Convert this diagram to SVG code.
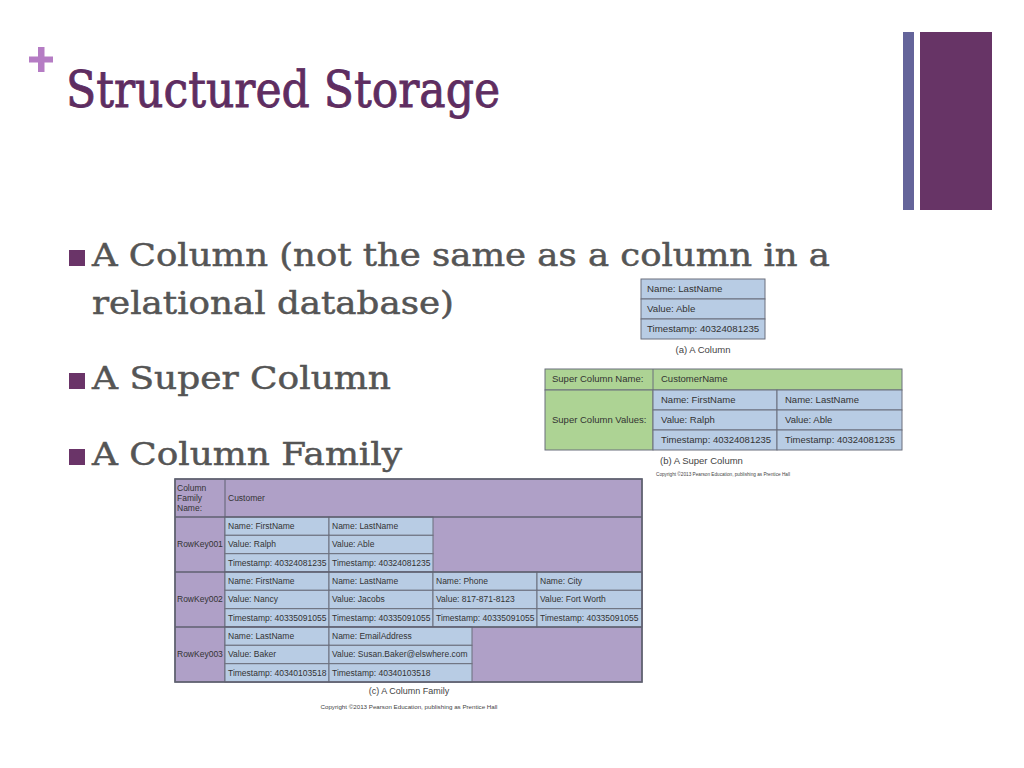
<svg xmlns="http://www.w3.org/2000/svg" width="1024" height="768" viewBox="0 0 1024 768">
<style>
.title{font-family:"DejaVu Serif","Liberation Serif",serif;font-size:51px;fill:#5e2d61;stroke:#5e2d61;stroke-width:0.9}
.bul{font-family:"DejaVu Serif","Liberation Serif",serif;font-size:32px;fill:#555555;stroke:#555555;stroke-width:0.5}
.sq{fill:#6a3468}
.t{font-family:"Liberation Sans",Arial,sans-serif;fill:#333333}
.ta{font-size:9.7px}
.tb{font-size:9.5px}
.tc{font-size:8.5px}
.blue{fill:#b8cce4;stroke:#6b6f7c;stroke-width:1}
.green{fill:#add394;stroke:#6b6f7c;stroke-width:1}
.purp{fill:#afa0c7;stroke:#5f6170;stroke-width:1}
.grp{fill:none;stroke:#5f6170;stroke-width:1.6}
.cap{font-family:"Liberation Sans",Arial,sans-serif;fill:#444444}
</style>
<rect width="1024" height="768" fill="#ffffff"/>

<g id="plus">
<rect x="38" y="47" width="6.5" height="25" fill="#b57cc4"/>
<rect x="29" y="56.5" width="24" height="6" fill="#b57cc4"/>
</g>
<g id="title">
<text class="title" x="66" y="107" textLength="434" lengthAdjust="spacingAndGlyphs">Structured Storage</text>
</g>
<g id="bars">
<rect x="903" y="32" width="11" height="178" fill="#64649a"/>
<rect x="920" y="32" width="72" height="178" fill="#673466"/>
</g>

<g id="bullets">
<rect class="sq" x="69" y="250" width="16" height="16"/>
<text class="bul" x="92" y="266" textLength="738" lengthAdjust="spacingAndGlyphs">A Column (not the same as a column in a</text>
<text class="bul" x="92" y="314" textLength="362" lengthAdjust="spacingAndGlyphs">relational database)</text>
<rect class="sq" x="69" y="373" width="16" height="16"/>
<text class="bul" x="92" y="389" textLength="299" lengthAdjust="spacingAndGlyphs">A Super Column</text>
<rect class="sq" x="69" y="449" width="16" height="16"/>
<text class="bul" x="92" y="465" textLength="310" lengthAdjust="spacingAndGlyphs">A Column Family</text>
</g>

<g id="column">
<rect class="blue" x="641" y="279" width="124" height="20"/>
<rect class="blue" x="641" y="299" width="124" height="20"/>
<rect class="blue" x="641" y="319" width="124" height="20"/>
<text class="t ta" x="647" y="292">Name: LastName</text>
<text class="t ta" x="647" y="312">Value: Able</text>
<text class="t ta" x="647" y="332">Timestamp: 40324081235</text>
<text class="cap" x="703" y="353" font-size="9.5" text-anchor="middle">(a) A Column</text>
</g>

<g id="super-column">
<rect class="green" x="545" y="369" width="357" height="21"/>
<line x1="653" y1="369" x2="653" y2="390" stroke="#6b6f7c"/>
<rect class="green" x="545" y="390" width="108" height="60"/>
<rect class="blue" x="653" y="390" width="124" height="20"/>
<rect class="blue" x="777" y="390" width="125" height="20"/>
<rect class="blue" x="653" y="410" width="124" height="20"/>
<rect class="blue" x="777" y="410" width="125" height="20"/>
<rect class="blue" x="653" y="430" width="124" height="20"/>
<rect class="blue" x="777" y="430" width="125" height="20"/>
<text class="t tb" x="552" y="382">Super Column Name:</text>
<text class="t tb" x="661" y="382">CustomerName</text>
<text class="t tb" x="552" y="423">Super Column Values:</text>
<text class="t tb" x="661" y="403">Name: FirstName</text>
<text class="t tb" x="785" y="403">Name: LastName</text>
<text class="t tb" x="661" y="423">Value: Ralph</text>
<text class="t tb" x="785" y="423">Value: Able</text>
<text class="t tb" x="661" y="443">Timestamp: 40324081235</text>
<text class="t tb" x="785" y="443">Timestamp: 40324081235</text>
<text class="cap" x="660" y="464" font-size="9.5">(b) A Super Column</text>
<text class="cap" x="656" y="476" font-size="4.8" textLength="134" lengthAdjust="spacingAndGlyphs">Copyright ©2013 Pearson Education, publishing as Prentice Hall</text>
</g>

<g id="column-family">
<rect class="purp" x="175" y="479" width="467" height="203"/>
<line x1="225" y1="479" x2="225" y2="682" stroke="#5f6170"/>
<rect class="blue" x="225" y="517" width="104" height="18.3"/>
<rect class="blue" x="329" y="517" width="104" height="18.3"/>
<rect class="blue" x="225" y="535.3" width="104" height="18.4"/>
<rect class="blue" x="329" y="535.3" width="104" height="18.4"/>
<rect class="blue" x="225" y="553.7" width="104" height="18.3"/>
<rect class="blue" x="329" y="553.7" width="104" height="18.3"/>
<rect class="blue" x="225" y="572" width="104" height="18.3"/>
<rect class="blue" x="329" y="572" width="104" height="18.3"/>
<rect class="blue" x="433" y="572" width="104" height="18.3"/>
<rect class="blue" x="537" y="572" width="105" height="18.3"/>
<rect class="blue" x="225" y="590.3" width="104" height="18.4"/>
<rect class="blue" x="329" y="590.3" width="104" height="18.4"/>
<rect class="blue" x="433" y="590.3" width="104" height="18.4"/>
<rect class="blue" x="537" y="590.3" width="105" height="18.4"/>
<rect class="blue" x="225" y="608.7" width="104" height="18.3"/>
<rect class="blue" x="329" y="608.7" width="104" height="18.3"/>
<rect class="blue" x="433" y="608.7" width="104" height="18.3"/>
<rect class="blue" x="537" y="608.7" width="105" height="18.3"/>
<rect class="blue" x="225" y="627" width="104" height="18.3"/>
<rect class="blue" x="329" y="627" width="143" height="18.3"/>
<rect class="blue" x="225" y="645.3" width="104" height="18.4"/>
<rect class="blue" x="329" y="645.3" width="143" height="18.4"/>
<rect class="blue" x="225" y="663.7" width="104" height="18.3"/>
<rect class="blue" x="329" y="663.7" width="143" height="18.3"/>
<line class="grp" x1="175" y1="517" x2="642" y2="517"/>
<line class="grp" x1="175" y1="572" x2="642" y2="572"/>
<line class="grp" x1="175" y1="627" x2="642" y2="627"/>
<rect class="grp" x="175" y="479" width="467" height="203"/>

<text class="t tc" x="177" y="491">Column</text>
<text class="t tc" x="177" y="501">Family</text>
<text class="t tc" x="177" y="511">Name:</text>
<text class="t tc" x="228" y="501">Customer</text>
<text class="t tc" x="177" y="547">RowKey001</text>
<text class="t tc" x="177" y="602">RowKey002</text>
<text class="t tc" x="177" y="657">RowKey003</text>

<text class="t tc" x="228" y="529">Name: FirstName</text>
<text class="t tc" x="332" y="529">Name: LastName</text>
<text class="t tc" x="228" y="547">Value: Ralph</text>
<text class="t tc" x="332" y="547">Value: Able</text>
<text class="t tc" x="228" y="566">Timestamp: 40324081235</text>
<text class="t tc" x="332" y="566">Timestamp: 40324081235</text>

<text class="t tc" x="228" y="584">Name: FirstName</text>
<text class="t tc" x="332" y="584">Name: LastName</text>
<text class="t tc" x="436" y="584">Name: Phone</text>
<text class="t tc" x="540" y="584">Name: City</text>
<text class="t tc" x="228" y="602">Value: Nancy</text>
<text class="t tc" x="332" y="602">Value: Jacobs</text>
<text class="t tc" x="436" y="602">Value: 817-871-8123</text>
<text class="t tc" x="540" y="602">Value: Fort Worth</text>
<text class="t tc" x="228" y="621">Timestamp: 40335091055</text>
<text class="t tc" x="332" y="621">Timestamp: 40335091055</text>
<text class="t tc" x="436" y="621">Timestamp: 40335091055</text>
<text class="t tc" x="540" y="621">Timestamp: 40335091055</text>

<text class="t tc" x="228" y="639">Name: LastName</text>
<text class="t tc" x="332" y="639">Name: EmailAddress</text>
<text class="t tc" x="228" y="657">Value: Baker</text>
<text class="t tc" x="332" y="657">Value: Susan.Baker@elswhere.com</text>
<text class="t tc" x="228" y="676">Timestamp: 40340103518</text>
<text class="t tc" x="332" y="676">Timestamp: 40340103518</text>

<text class="cap" x="409" y="694" font-size="9" text-anchor="middle">(c) A Column Family</text>
<text class="cap" x="409" y="709" font-size="5.5" text-anchor="middle" textLength="177" lengthAdjust="spacingAndGlyphs">Copyright ©2013 Pearson Education, publishing as Prentice Hall</text>
</g>
</svg>
